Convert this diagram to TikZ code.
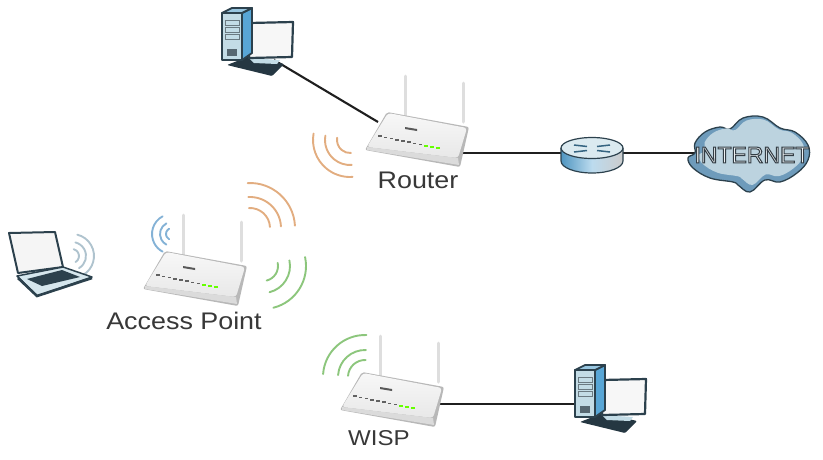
\documentclass[tikz,border=0pt]{standalone}
\usepackage{fontspec}
\setmainfont[FakeStretch=1.12]{Liberation Sans}
\newfontfamily\cloudfont{Liberation Sans}
\usepackage{tikz}
\usetikzlibrary{calc}
\definecolor{darkline}{HTML}{2C414D}
\definecolor{towerblue}{HTML}{58A6D6}
\definecolor{towerfront}{HTML}{C3DCE6}
\definecolor{wavebrown}{HTML}{E2AD80}
\definecolor{wavegreen}{HTML}{8CC67C}
\definecolor{waveblue}{HTML}{84B2D6}
\definecolor{wavegrey}{HTML}{AFC3CE}
\definecolor{cloudedge}{HTML}{6E9BBB}
\definecolor{cloudface}{HTML}{BCD3DF}
\tikzset{
  cable/.style={line width=2.1pt,black!88},
  label/.style={font=\fontsize{24}{26}\selectfont,text=black!78},
  wavearc/.style={line width=1.9pt,line cap=round},
  antenna/.style={line width=3pt,line cap=round,black!13},
  apbox/.pic={
    \draw[antenna] (38,32) -- (38,72);
    \draw[antenna] (96,26) -- (96,65);
    \fill[black!28,rounded corners=2pt] (-2,-2) -- (20,36) -- (102,21) -- (93,-19) -- cycle;
    \shade[top color=black!3,bottom color=black!9,rounded corners=3pt] (0,1) -- (21,35) -- (100,20) -- (91,-10) -- cycle;
    \fill[black!14] (0,1) -- (91,-10) -- (92,-17) -- (0,-2) -- cycle;
    \foreach \i in {0,...,7} \fill[black!62] ({11+5.8*\i},{11-1.2*\i}) rectangle ++(3.6,1.6);
    \foreach \i in {8,...,10} \fill[green!60!yellow] ({11+5.8*\i},{11-1.2*\i}) rectangle ++(3.6,1.6);
    \fill[black!65] (38,19) -- (50,17) -- (50,19) -- (38,21) -- cycle;
  },
  pcset/.pic={
    % keyboard under the monitor
    \fill[darkline!85!black,rounded corners=1pt] (5,-52) -- (28,-43) -- (62,-51) -- (50,-63) -- cycle;
    \fill[towerfront] (27,-45) -- (58,-47) -- (55,-51) -- (32,-50) -- cycle;
    % monitor
    \draw[darkline,line width=2.2pt,fill=black!3,line join=round] (27,-10) -- (71,-9) -- (70,-44) -- (27,-45) -- cycle;
    % tower
    \draw[darkline,line width=1.8pt,fill=towerblue,line join=round] (20,0) -- (30,5) -- (30,-40) -- (20,-47) -- cycle;
    \draw[darkline,line width=1.8pt,fill=towerfront!60!towerblue,line join=round] (0,0) -- (10,5) -- (30,5) -- (20,0) -- cycle;
    \draw[darkline,line width=1.8pt,fill=towerfront,line join=round] (0,0) rectangle (20,-47);
    \foreach \y in {-7,-14,-21} \draw[darkline!70,line width=.7pt] (3,\y) rectangle (17,{\y-5});
    \fill[darkline!80] (5,-36) rectangle (15,-43);
  },
}
\newcommand{\wavearcs}[5]{% center, direction, half span, colour, radii
  \foreach \r in {#5}
    \draw[wavearc,#4] ($(#1)+({#2-#3}:\r)$) arc[start angle={#2-#3},end angle={#2+#3},radius=\r];
}
\newcommand{\cloudpts}{(695,-153) (695,-143) (705,-132) (720,-127) (730,-129) (743,-118) (763,-117) (780,-128) (795,-132) (808,-145) (808,-160) (797,-173) (780,-182) (765,-180) (750,-192) (738,-185) (733,-182) (710,-178) (693,-168) (688,-158)}
\begin{document}
\begin{tikzpicture}[x=1pt,y=1pt]
  \useasboundingbox (0,-459) rectangle (823,0);
  % free ends of the cables
  \coordinate (pctop-port) at (274,-60);
  \coordinate (router-west) at (378,-122);
  \coordinate (router-east) at (455,-153);
  \coordinate (hub-west) at (561,-153);
  \coordinate (hub-east) at (622,-153);
  \coordinate (cloud-west) at (696,-153);
  \coordinate (wisp-east) at (436,-404);
  \coordinate (pcwisp-port) at (576,-404);
  % cables
  \draw[cable] (pctop-port) -- (router-west);
  \draw[cable] (router-east) -- (hub-west);
  \draw[cable,line width=1.7pt] (hub-east) -- (cloud-west);
  \draw[cable] (wisp-east) -- (pcwisp-port);
  % devices
  \pic (pctop) at (222,-13) {pcset};
  \pic (pcwisp) at (575,-370) {pcset};
  \pic (router) at (367,-148) {apbox};
  \pic (ap) at (145,-287) {apbox};
  \pic (wisp) at (342,-408) {apbox};
  % wireless signs
  \wavearcs{350,-140}{222}{52}{wavebrown}{13,25,37}
  \wavearcs{250,-228}{48}{45}{wavebrown}{20,31,45}
  \wavearcs{263,-266}{-32}{44}{wavegreen}{15,27,43}
  \wavearcs{172,-234}{180}{62}{waveblue}{6,12,20}
  \wavearcs{365,-377}{132}{44}{wavegreen}{17,27,42}
  \wavearcs{72,-256}{8}{68}{wavegrey}{7,14,22}
  % laptop
  \draw[darkline,line width=2pt,fill=black!4,line join=round] (9,-233) -- (55,-232) -- (63,-267) -- (18,-273) -- cycle;
  \draw[darkline,line width=1.5pt,fill=towerfront!70,line join=round] (17,-276) -- (63,-267) -- (92,-277) -- (37,-296) -- cycle;
  \fill[darkline] (27,-279) -- (62,-270) -- (80,-277) -- (42,-286) -- cycle;
  \draw[darkline,line width=2.6pt] (18,-278) -- (37,-296) -- (92,-278);
  % hub
  \shade[left color=towerblue!90!black,right color=black!20,middle color=towerblue!40] (561,-148) -- (561,-161) arc[start angle=180,end angle=360,x radius=31,y radius=12] -- (623,-148) -- cycle;
  \draw[darkline,line width=1.2pt] (561,-148) -- (561,-161) arc[start angle=180,end angle=360,x radius=31,y radius=12] -- (623,-148);
  \draw[darkline,line width=1.2pt,fill=towerfront!60] (592,-148) ellipse [x radius=31,y radius=10.5];
  \foreach \s in {-1,1} {
    \draw[towerblue!60!black,line width=1.5pt] ({592+\s*18},-145) -- ({592+\s*5},-146.5);
    \draw[towerblue!60!black,line width=1.5pt] ({592+\s*18},-152) -- ({592+\s*5},-150.5);
  }
  % cloud
  \draw[darkline,line width=1.3pt,fill=cloudedge] plot[smooth cycle,tension=.65] coordinates {\cloudpts};
  \begin{scope}[shift={(752.5,-151)},scale=.87,shift={(-750,153)}]
    \fill[cloudface] plot[smooth cycle,tension=.65] coordinates {\cloudpts};
  \end{scope}
  \node (internet) at (752,-155) {\cloudfont\fontsize{23}{25}\selectfont\special{pdf:code q 2 Tr 1 w 0.2 0.24 0.27 RG 0.93 0.95 0.96 rg}\hbox{INTERNET}\special{pdf:code Q}};
  % labels
  \node[label] (routerlabel) at (418,-180) {Router};
  \node[label] (aplabel) at (184,-321) {Access Point};
  \node[label,font=\fontsize{21.5}{24}\selectfont] (wisplabel) at (379,-438) {WISP};
\end{tikzpicture}
\end{document}
